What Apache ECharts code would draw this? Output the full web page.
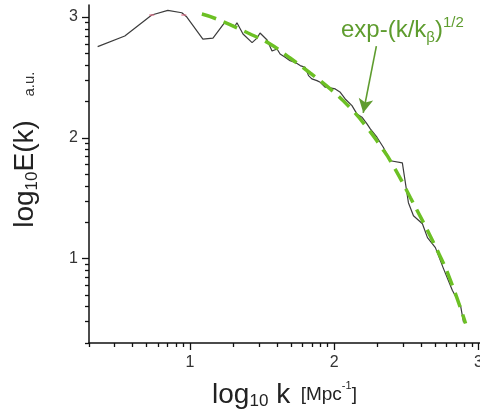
<!DOCTYPE html>
<html><head><meta charset="utf-8">
<script src="https://cdn.jsdelivr.net/npm/echarts@6/dist/echarts.min.js"></script>
<style>html,body{margin:0;padding:0;background:#fff}#c{width:480px;height:416px}</style>
</head><body><div id="c"></div>
<script>
// log10 k values and log10 E(k) values
const spectrumX = [0.361,0.549,0.736,0.847,0.944,0.979,1.090,1.160,1.243,1.313,1.326,1.368,1.431,1.465,1.486,1.535,1.569,1.604,1.625,1.660,1.694,1.729,1.764,1.799,1.822,1.845,1.880,1.903,1.938,1.972,2.007,2.042,2.076,2.123,2.157,2.192,2.227,2.250,2.296,2.340,2.389,2.472,2.514,2.549,2.611,2.646,2.701,2.757,2.819,2.875,2.896];
const spectrumY = [2.755,2.843,3.017,3.055,3.036,3.000,2.818,2.826,2.959,2.926,2.953,2.860,2.788,2.826,2.868,2.810,2.719,2.736,2.694,2.667,2.639,2.625,2.598,2.584,2.515,2.488,2.474,2.460,2.419,2.414,2.405,2.377,2.322,2.267,2.198,2.171,2.116,2.074,2.005,1.922,1.810,1.793,1.463,1.355,1.289,1.174,1.091,0.917,0.736,0.612,0.471];
const fitX = [1.083,1.188,1.403,1.556,1.694,1.833,1.972,2.111,2.229,2.319,2.389,2.528,2.715,2.806,2.910];
const fitY = [3.025,2.983,2.868,2.777,2.661,2.537,2.405,2.248,2.083,1.934,1.810,1.504,1.066,0.818,0.463];
const pinkX = [0.736,0.958];
const pinkY = [3.017,3.017];
const arrowFrom = [2.292,2.760];
const arrowTo = [2.201,2.207];
const majorTicks = [1,2,3];
const minorTicks = [];
[0,1,2].forEach(d=>{for(let n=2;n<=9;n++){minorTicks.push(d+Math.log10(n));}});

const FONT = 'Liberation Sans, Arial, sans-serif';
const AX = {min:Math.log10(2), max:3.01};
const AY = {min:Math.log10(2), max:3.1};
const zip = (a,b)=>a.map((v,i)=>[v,b[i]]);
const green = '#6cc024';
const labelGreen = '#5e9c2e';

function mkX(major){
  return {
    type:'value', gridIndex:0, position:'bottom', min:AX.min, max:AX.max,
    axisLine:{show:major, onZero:false, lineStyle:{color:'#111', width:1.5}},
    splitLine:{show:false},
    axisTick:{show:true, inside:false, length: major?7:4, customValues: major?majorTicks:minorTicks, lineStyle:{color:'#111', width:1.3}},
    axisLabel:{show:major, customValues:majorTicks, margin:12, fontSize:16, color:'#333', fontFamily:FONT, formatter:v=>String(Math.round(v))},
    name: major ? '{a|log}{s|10}{a| k}{b|  [Mpc}{p|-1}{b|]}' : '',
    nameLocation:'middle', nameGap:37,
    nameTextStyle:{fontFamily:FONT, color:'#222', rich:{
      a:{fontSize:28, lineHeight:30, fontFamily:FONT, color:'#222'},
      s:{fontSize:17, lineHeight:8, verticalAlign:'bottom', fontFamily:FONT, color:'#222'},
      b:{fontSize:19, lineHeight:30, fontFamily:FONT, color:'#222'},
      p:{fontSize:11, lineHeight:30, verticalAlign:'top', padding:[0,0,12,0], fontFamily:FONT, color:'#222'}
    }}
  };
}
function mkY(major){
  return {
    type:'value', gridIndex:0, position:'left', min:AY.min, max:AY.max,
    axisLine:{show:major, onZero:false, lineStyle:{color:'#111', width:1.5}},
    splitLine:{show:false},
    axisTick:{show:true, inside:false, length: major?7:4, customValues: major?majorTicks:minorTicks, lineStyle:{color:'#111', width:1.3}},
    axisLabel:{show:major, customValues:majorTicks, margin:11, fontSize:16, color:'#333', fontFamily:FONT, formatter:v=>String(Math.round(v))},
    name: major ? '{a|log}{s|10}{a|E(k)}' : '',
    nameLocation:'middle', nameGap:48, nameRotate:90,
    nameTextStyle:{fontFamily:FONT, color:'#222', rich:{
      a:{fontSize:28, lineHeight:32, fontFamily:FONT, color:'#222'},
      s:{fontSize:17, lineHeight:8, verticalAlign:'bottom', fontFamily:FONT, color:'#222'}
    }}
  };
}

const chart = echarts.init(document.getElementById('c'), null, {renderer:'canvas'});
chart.setOption({
  animation:false,
  backgroundColor:'#fff',
  grid:{left:89, right:0, top:5, bottom:73, containLabel:false, outerBoundsMode:'none'},
  xAxis:[mkX(true), mkX(false)],
  yAxis:[mkY(true), mkY(false)],
  series:[
    {type:'line', data:zip(spectrumX,spectrumY), showSymbol:false, smooth:false,
     lineStyle:{color:'#3c3c3c', width:1.2}, z:3},
    {type:'line', data:zip(fitX,fitY), showSymbol:false, smooth:true,
     lineStyle:{color:green, width:3.5, type:[15,8]}, z:4,
     markLine:{silent:true, symbol:['none','arrow'], symbolSize:[11,14],
       lineStyle:{color:labelGreen, width:1.6, type:'solid'}, label:{show:false},
       data:[[{coord:arrowFrom},{coord:arrowTo}]]}},
    {type:'scatter', data:zip(pinkX,pinkY), symbol:'rect', symbolSize:[5,1.5],
     itemStyle:{color:'#e0708a'}, z:5}
  ],
  graphic:[
    {type:'text', left:341, top:15, z:10, style:{
      text:'{a|exp-(k/k}{s|β}{a|)}{p|1/2}', fill:labelGreen, font:'24px '+FONT,
      rich:{
        a:{fontSize:24, lineHeight:30, fontFamily:FONT, fill:labelGreen},
        s:{fontSize:15, lineHeight:8, verticalAlign:'bottom', fontFamily:FONT, fill:labelGreen},
        p:{fontSize:15, lineHeight:14, verticalAlign:'top', fontFamily:FONT, fill:labelGreen}
      }}},
    {type:'text', x:30, y:84, rotation:Math.PI/2, z:10, style:{
      text:'a.u.', fill:'#333', font:'15px '+FONT, textAlign:'center', textVerticalAlign:'middle'}}
  ]
});
</script></body></html>
